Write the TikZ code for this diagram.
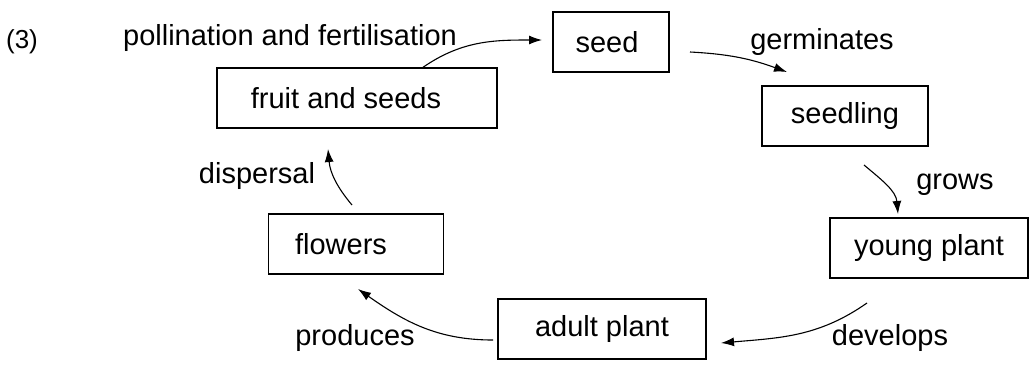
\documentclass[tikz,border=0pt]{standalone}
\usepackage{fontspec}
\setmainfont{Liberation Sans}
\usetikzlibrary{arrows.meta}
\begin{document}
\begin{tikzpicture}[x=1pt,y=-1pt,
  every node/.style={font=\fontsize{29}{34}\selectfont, inner sep=0pt},
  stage/.style={draw, line width=1.2pt, minimum height=60pt},
  lbl/.style={},
  flow/.style={line width=1.1pt, -{Latex[length=13pt,width=9pt]}}]
\useasboundingbox (0,0) rectangle (1030,365);
\node[lbl] (qn) at (22,42) {\fontsize{26}{30}\selectfont(3)};
% stages
\node[stage, minimum width=116pt] (seed) at (611,42) {seed\hspace*{8pt}};
\node[stage, minimum width=166pt] (seedling) at (845,116) {seedling};
\node[stage, minimum width=198pt] (young) at (929,248) {young plant};
\node[stage, minimum width=208pt] (adult) at (602,329) {adult plant};
\node[stage, minimum width=175pt] (flowers) at (356,244) {flowers\hspace*{30pt}};
\node[stage, minimum width=280pt] (fruit) at (357,98) {fruit and seeds\hspace*{22pt}};
% labels
\node[lbl] (l1) at (290,38) {pollination and fertilisation};
\node[lbl] (l2) at (822,42) {germinates};
\node[lbl] (l3) at (955,185) {grows};
\node[lbl] (l4) at (890,338) {develops};
\node[lbl] (l5) at (355,338) {produces};
\node[lbl] (l6) at (257,176) {dispersal};
% connectors
\coordinate (a1s) at (422,68);
\coordinate (a1e) at (542,40);
\draw[flow] (a1s) to[out=35,in=180] (a1e);
\coordinate (a2s) at (690,52);
\coordinate (a2e) at (787,72);
\draw[flow] (a2s) to[out=-3,in=160] (a2e);
\coordinate (a3s) at (864,165);
\coordinate (a3e) at (898,214);
\draw[flow] (a3s) to[out=-40,in=95] (a3e);
\coordinate (a4s) at (867,303);
\coordinate (a4e) at (721,343);
\draw[flow] (a4s) to[out=-145,in=5] (a4e);
\coordinate (a5s) at (493,340);
\coordinate (a5e) at (358,289);
\draw[flow] (a5s) to[out=180,in=-35] (a5e);
\coordinate (a6s) at (352,205);
\coordinate (a6e) at (328,149);
\draw[flow] (a6s) to[out=130,in=-85] (a6e);
\end{tikzpicture}
\end{document}
